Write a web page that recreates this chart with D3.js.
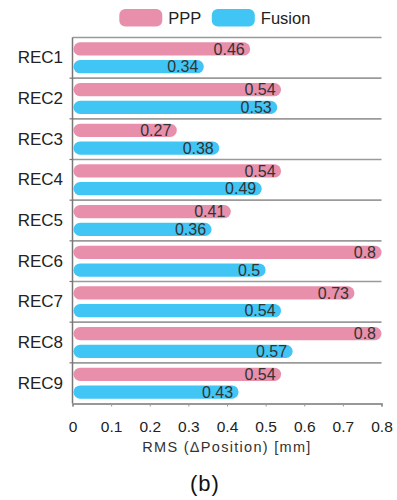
<!DOCTYPE html>
<html>
<head>
<meta charset="utf-8">
<script src="https://cdn.jsdelivr.net/npm/d3@7"></script>
<style>
  body { margin: 0; background: #fff; }
  text { font-family: "Liberation Sans", Arial, sans-serif; }
</style>
</head>
<body>
<div id="chart"></div>
<script>
// RMS of position error per recording, PPP vs Fusion
const categories = ['REC1', 'REC2', 'REC3', 'REC4', 'REC5', 'REC6', 'REC7', 'REC8', 'REC9'];
const seriesNames = ['PPP', 'Fusion'];
const pppValues = [0.46, 0.54, 0.27, 0.54, 0.41, 0.8, 0.73, 0.8, 0.54];
const fusionValues = [0.34, 0.53, 0.38, 0.49, 0.36, 0.5, 0.54, 0.57, 0.43];
const xTicks = [0, 0.1, 0.2, 0.3, 0.4, 0.5, 0.6, 0.7, 0.8];
const colors = { PPP: '#e88fac', Fusion: '#40c5f4' };

const W = 397, H = 500;
const margin = { top: 37.5, right: 15.5, bottom: 96.5, left: 72.5 };
const width = W - margin.left - margin.right;
const height = H - margin.top - margin.bottom;

const svg = d3.select('#chart').append('svg')
    .attr('width', W)
    .attr('height', H);

const g = svg.append('g')
    .attr('transform', `translate(${margin.left},${margin.top})`);

const x = d3.scaleLinear().domain([0, 0.8]).range([0, width]);
const y = d3.scaleBand().domain(categories).range([0, height]);
const inner = d3.scaleBand().domain(seriesNames)
    .range([0, y.bandwidth()])
    .paddingInner(0.25)
    .paddingOuter(0.27);

const data = categories.map((c, i) => ({ cat: c, PPP: pppValues[i], Fusion: fusionValues[i] }));

// separator lines between categories
g.selectAll('.sep')
    .data(categories)
    .enter()
    .append('line')
    .attr('x1', 0)
    .attr('x2', width)
    .attr('y1', d => y(d))
    .attr('y2', d => y(d))
    .attr('stroke', '#9a9a9a')
    .attr('stroke-width', 1.6);

// bars
const groups = g.selectAll('.grp')
    .data(data)
    .enter()
    .append('g')
    .attr('transform', d => `translate(0,${y(d.cat)})`);

seriesNames.forEach(s => {
    const bh = inner.bandwidth();
    groups.append('rect')
        .attr('x', 1)
        .attr('y', inner(s))
        .attr('width', d => x(d[s]) - 1)
        .attr('height', bh)
        .attr('rx', bh / 2)
        .attr('fill', colors[s]);

    groups.append('text')
        .attr('x', d => x(d[s]) - 5.5)
        .attr('y', inner(s) + bh / 2)
        .attr('dy', '0.36em')
        .attr('text-anchor', 'end')
        .attr('fill', '#333')
        .style('font-size', '16px')
        .text(d => d[s]);
});

// y axis
const yAxis = g.append('g')
    .call(d3.axisLeft(y).tickSize(0).tickPadding(9.5));
yAxis.select('.domain').remove();
yAxis.selectAll('text')
    .attr('fill', '#222')
    .style('font-size', '17px');

g.append('line')
    .attr('x1', 0).attr('x2', 0)
    .attr('y1', 0).attr('y2', height)
    .attr('stroke', '#777')
    .attr('stroke-width', 1.5);

// small ticks on the left at band boundaries
g.selectAll('.ytick')
    .data(categories.slice(1))
    .enter()
    .append('line')
    .attr('x1', -3).attr('x2', 0)
    .attr('y1', d => y(d)).attr('y2', d => y(d))
    .attr('stroke', '#777')
    .attr('stroke-width', 1.2);

// x axis
const xAxis = g.append('g')
    .attr('transform', `translate(0,${height})`)
    .call(d3.axisBottom(x).tickValues(xTicks).tickFormat(d3.format('')).tickSize(3).tickPadding(14));
xAxis.select('.domain').attr('stroke', '#777').attr('stroke-width', 1.5);
xAxis.selectAll('.tick line').attr('stroke', '#999').attr('stroke-width', 1);
xAxis.selectAll('text')
    .attr('fill', '#222')
    .style('font-size', '15.5px');

// axis title
g.append('text')
    .attr('x', width / 2)
    .attr('y', height + 48.2)
    .attr('text-anchor', 'middle')
    .attr('fill', '#333')
    .style('font-size', '14.5px')
    .style('letter-spacing', '1.3px')
    .text('RMS (ΔPosition) [mm]');

// caption
svg.append('text')
    .attr('x', 205)
    .attr('y', 491)
    .attr('text-anchor', 'middle')
    .attr('fill', '#111')
    .style('font-size', '22px')
    .style('letter-spacing', '1px')
    .text('(b)');

// legend
const legend = svg.append('g').attr('transform', 'translate(119.3,9)');
const legendX = { PPP: 0, Fusion: 92.5 };
seriesNames.forEach(s => {
    const lg = legend.append('g').attr('transform', `translate(${legendX[s]},0)`);
    lg.append('rect')
        .attr('width', 43)
        .attr('height', 17.5)
        .attr('rx', 6)
        .attr('fill', colors[s]);
    lg.append('text')
        .attr('x', 49)
        .attr('y', 8.75)
        .attr('dy', '0.36em')
        .attr('fill', '#222')
        .style('font-size', '16.5px')
        .text(s);
});
</script>
</body>
</html>
